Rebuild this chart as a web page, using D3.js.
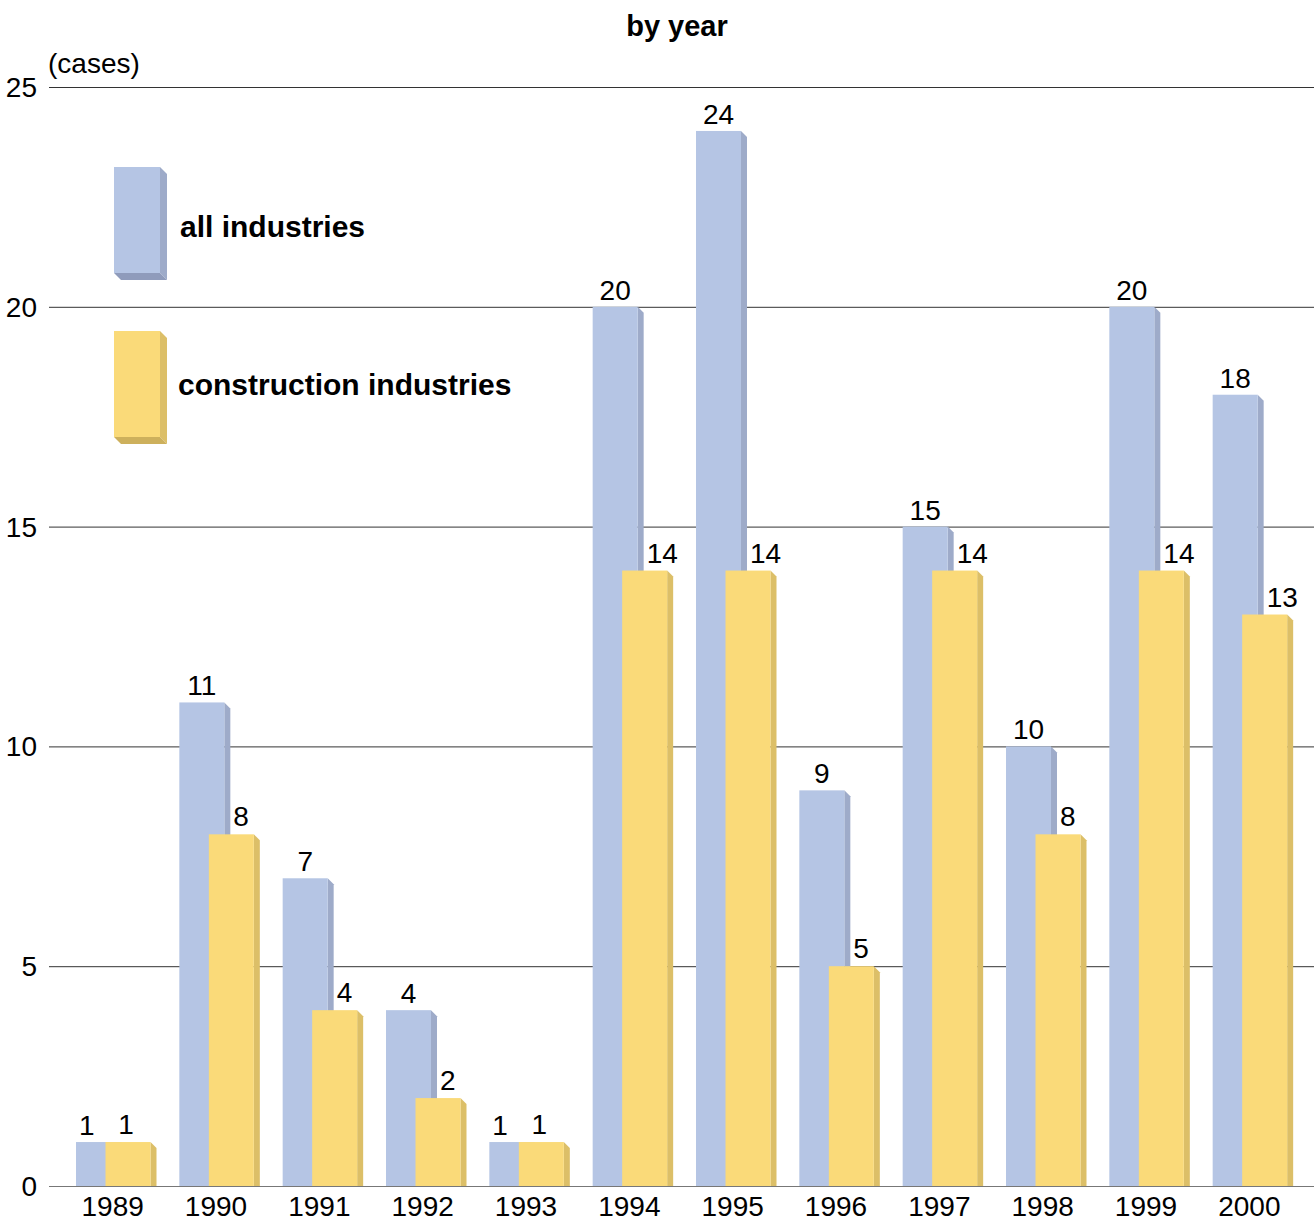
<!DOCTYPE html>
<html>
<head>
<meta charset="utf-8">
<script src="https://cdn.jsdelivr.net/npm/d3@7"></script>
<style>
  body { margin: 0; background: #fff; }
  svg { display: block; font-family: "Liberation Sans", Arial, sans-serif; }
</style>
</head>
<body>
<svg id="chart"></svg>
<script>
const years = ["1989", "1990", "1991", "1992", "1993", "1994", "1995", "1996", "1997", "1998", "1999", "2000"];
const allIndustries = [1, 11, 7, 4, 1, 20, 24, 9, 15, 10, 20, 18];
const construction = [1, 8, 4, 2, 1, 14, 14, 5, 14, 8, 14, 13];
const yTicks = [0, 5, 10, 15, 20, 25];

const width = 1314, height = 1220;
const svg = d3.select("#chart").attr("width", width).attr("height", height);

const x = d3.scaleBand().domain(years).range([61, 1301]);
const y = d3.scaleLinear().domain([0, 25]).range([1186, 87]);

const barW = 45, depth = 6;
const blueOff = 15, yellowOff = 44.5;
const series = [
  { name: "all industries", values: allIndustries, off: blueOff, fill: "#b5c5e4", side: "#9eabc9", bottom: "#8f9bbb" },
  { name: "construction industries", values: construction, off: yellowOff, fill: "#fada79", side: "#dcbf68", bottom: "#cdb05c" }
];

// gridlines
svg.append("g")
  .selectAll("line")
  .data(yTicks)
  .join("line")
    .attr("x1", 49).attr("x2", width)
    .attr("y1", d => y(d) + 0.5).attr("y2", d => y(d) + 0.5)
    .attr("stroke", d => d === 0 ? "#777" : "#333")
    .attr("stroke-width", 1);

svg.append("g")
    .attr("font-size", 28)
    .attr("text-anchor", "end")
  .selectAll("text")
  .data(yTicks)
  .join("text")
    .attr("x", 37)
    .attr("y", d => y(d) + 10)
    .text(d => d);

svg.append("text")
  .attr("x", 48).attr("y", 73)
  .attr("font-size", 28)
  .text("(cases)");

svg.append("text")
  .attr("x", 677).attr("y", 36)
  .attr("font-size", 29)
  .attr("font-weight", "bold")
  .attr("text-anchor", "middle")
  .text("by year");

// bars
series.forEach((s, si) => {
  const g = svg.append("g");
  const data = years.map((yr, i) => ({ yr, v: s.values[i] }));
  const bx = d => x(d.yr) + s.off;

  g.selectAll("path.side")
    .data(data)
    .join("path")
      .attr("fill", s.side)
      .attr("d", d => {
        const x0 = bx(d) + barW, top = y(d.v), base = y(0);
        return `M${x0},${top}L${x0 + depth},${top + depth}L${x0 + depth},${base}L${x0},${base}Z`;
      });

  g.selectAll("rect")
    .data(data)
    .join("rect")
      .attr("x", bx)
      .attr("y", d => y(d.v))
      .attr("width", barW)
      .attr("height", d => y(0) - y(d.v))
      .attr("fill", s.fill);
});

// value labels (nudged apart where the two bars are level)
const labels = svg.append("g").attr("font-size", 28);
years.forEach((yr, i) => {
  const a = allIndustries[i], c = construction[i];
  const bX = x(yr) + blueOff, yX = x(yr) + yellowOff;
  const tie = a <= c;
  labels.append("text")
    .attr("x", tie ? (bX + yX) / 2 - 4 : bX + barW / 2)
    .attr("y", y(a) - 7)
    .attr("text-anchor", "middle")
    .text(a);
  labels.append("text")
    .attr("x", tie ? yX + barW / 2 - 2 : bX + barW + depth + 3)
    .attr("y", y(c) - 8)
    .attr("text-anchor", tie ? "middle" : "start")
    .text(c);
});

// year labels
svg.append("g")
    .attr("font-size", 28)
    .attr("text-anchor", "middle")
  .selectAll("text")
  .data(years)
  .join("text")
    .attr("x", d => x(d) + x.bandwidth() / 2)
    .attr("y", 1216)
    .text(d => d);

// legend
const legend = svg.append("g");
const legY = [167, 331];
series.forEach((s, i) => {
  const lx = 114, ly = legY[i], lw = 46, lh = 106, d = 7;
  legend.append("path")
    .attr("fill", s.side)
    .attr("d", `M${lx + lw},${ly}L${lx + lw + d},${ly + d}L${lx + lw + d},${ly + lh + d}L${lx + lw},${ly + lh}Z`);
  legend.append("path")
    .attr("fill", s.bottom)
    .attr("d", `M${lx},${ly + lh}L${lx + lw},${ly + lh}L${lx + lw + d},${ly + lh + d}L${lx + d},${ly + lh + d}Z`);
  legend.append("rect")
    .attr("x", lx).attr("y", ly)
    .attr("width", lw).attr("height", lh)
    .attr("fill", s.fill);
  legend.append("text")
    .attr("x", i === 0 ? 180 : 178)
    .attr("y", i === 0 ? 237 : 395)
    .attr("font-size", 30)
    .attr("font-weight", "bold")
    .text(s.name);
});
</script>
</body>
</html>
